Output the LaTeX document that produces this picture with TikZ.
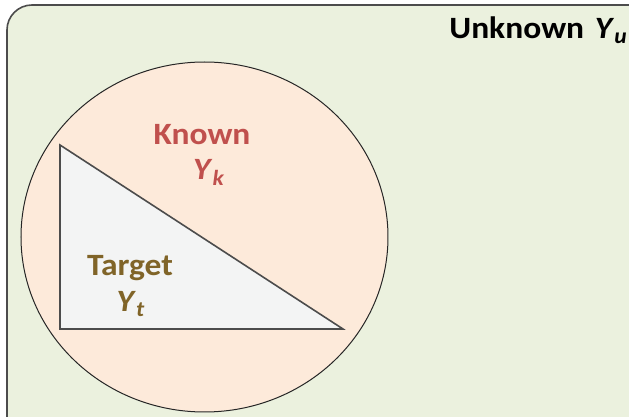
\documentclass[tikz,border=0pt]{standalone}
\usepackage{fontspec}
\setmainfont{Carlito}[FakeStretch=1.08]
\usepackage{tikz}
\usetikzlibrary{calc}

\definecolor{setgreen}{HTML}{EBF1DE}
\definecolor{setpeach}{HTML}{FDEADA}
\definecolor{setgray}{HTML}{F3F4F4}
\definecolor{knownred}{HTML}{C0504D}
\definecolor{targetbrown}{RGB}{128,100,40}
\newcommand{\yvar}[1]{{\itshape Y\/\textsubscript{#1}}}

\tikzset{
    lbl/.style={font=\fontsize{15.5}{18}\selectfont\bfseries, inner sep=0pt, anchor=base},
}

\begin{document}
\begin{tikzpicture}[x=0.5pt, y=-0.5pt]
                \useasboundingbox (0,0) rectangle (629,417);
                \begin{scope}
                    \clip (0,0) rectangle (629,417);
                    \draw[draw=black!70, line width=0.8pt, fill=setgreen, rounded corners=12.5pt] (7,5) rectangle (680,460);
                \end{scope}
                \draw[draw=black!85, line width=0.5pt, fill=setpeach] (204.5,237) ellipse [x radius=183.5, y radius=175];
                \draw[draw=black!70, line width=0.8pt, fill=setgray] (60,145) -- (343,329) -- (60,329) -- cycle;
                \node[lbl, anchor=base west] (unknown) at (449,39) {Unknown\hspace{0.35em}\yvar{u}};
                \node[lbl, text=knownred] (known) at (202,145) {Known};
                \node[lbl, text=knownred] (yk) at (209,180) {\yvar{k}};
                \node[lbl, text=targetbrown] (target) at (130,276) {Target};
                \node[lbl, text=targetbrown] (yt) at (131,312) {\yvar{t}};
            \end{tikzpicture}
\end{document}
